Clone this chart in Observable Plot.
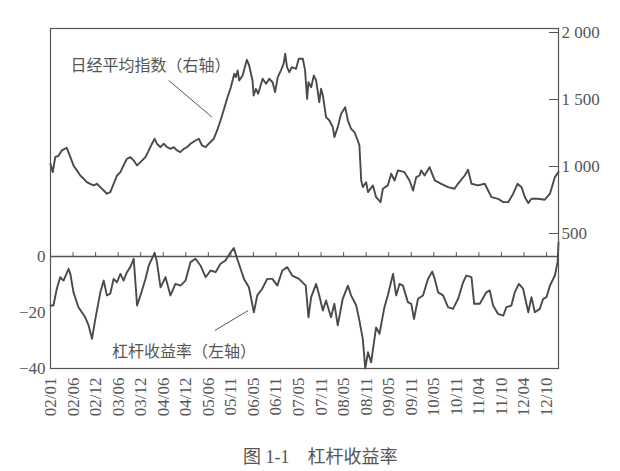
<!DOCTYPE html>
<html><head><meta charset="utf-8">
<script src="https://cdn.jsdelivr.net/npm/d3@7"></script>
<script src="https://cdn.jsdelivr.net/npm/@observablehq/plot@0.6"></script>
<style>
body{margin:0;background:#fff;}
#wrap{position:relative;width:620px;height:471px;overflow:hidden;}
#cap{position:absolute;left:243px;top:446px;font-size:18px;font-family:"Liberation Serif","Noto Sans CJK SC",serif;color:#555;white-space:pre;line-height:22px;}
</style></head><body>
<div id="wrap"><div id="chart"></div><div id="cap">图 1-1　杠杆收益率</div></div>
<script>
// x-axis tick labels (evenly spaced, index positions 0..22)
const xTickLabels = ["02/01","02/06","02/12","03/06","03/12","04/06","04/12","05/06","05/11","06/05","06/11","07/05","07/11","08/05","08/11","09/05","09/11","10/05","10/11","11/04","11/10","12/04","12/10"];

// Nikkei average index (right axis)
const nikkeiIdx = [0,0.1,0.21,0.36,0.50,0.72,0.88,1.02,1.17,1.32,1.47,1.61,1.76,1.91,2.06,2.21,2.36,2.50,2.65,2.80,2.95,3.10,3.24,3.39,3.54,3.69,3.84,3.99,4.21,4.36,4.50,4.62,4.72,4.88,5.02,5.17,5.32,5.47,5.61,5.76,5.91,6.06,6.21,6.43,6.58,6.72,6.88,7.02,7.24,7.39,7.54,7.70,7.85,8.00,8.15,8.22,8.30,8.37,8.52,8.71,8.81,8.96,9.01,9.11,9.21,9.41,9.56,9.70,9.85,9.96,10.08,10.22,10.34,10.41,10.49,10.59,10.70,10.89,11.01,11.19,11.29,11.38,11.44,11.56,11.68,11.78,11.92,12.0,12.08,12.22,12.37,12.52,12.59,12.74,12.89,13.07,13.19,13.33,13.48,13.63,13.70,13.78,13.85,14.0,14.08,14.30,14.44,14.64,14.74,14.96,15.11,15.26,15.41,15.70,15.92,16.08,16.22,16.37,16.44,16.59,16.81,17.04,17.33,17.63,17.92,18.07,18.37,18.52,18.67,18.96,19.26,19.41,19.56,19.85,20.08,20.30,20.52,20.71,20.89,21.04,21.19,21.33,21.63,21.92,22.15,22.37,22.53];
const nikkeiVal = [1021,958,1070,1082,1120,1140,1070,1008,971,933,909,883,871,859,871,846,821,797,809,871,933,958,1008,1058,1070,1045,1008,1033,1070,1120,1170,1207,1170,1144,1170,1144,1132,1144,1120,1107,1132,1144,1170,1194,1207,1157,1144,1170,1207,1269,1343,1431,1517,1592,1692,1667,1717,1642,1679,1796,1754,1642,1530,1580,1543,1655,1617,1655,1629,1555,1667,1717,1767,1841,1741,1704,1741,1729,1804,1804,1717,1505,1629,1592,1679,1642,1480,1580,1530,1368,1343,1294,1219,1294,1393,1443,1343,1282,1256,1194,1157,896,846,883,809,859,771,734,834,859,946,896,971,958,896,821,921,933,971,933,995,896,871,846,834,871,933,976,871,859,871,821,771,759,734,734,797,871,846,771,727,759,759,752,797,921,958];

// Leverage return (left axis, %)
const levIdx = [0,0.13,0.28,0.43,0.58,0.80,0.88,1.02,1.24,1.39,1.54,1.69,1.84,1.99,2.21,2.36,2.50,2.65,2.80,2.95,3.10,3.24,3.39,3.54,3.69,3.84,3.99,4.21,4.36,4.50,4.62,4.72,4.88,5.10,5.32,5.54,5.76,5.99,6.21,6.43,6.65,6.88,7.10,7.32,7.54,7.76,7.99,8.13,8.28,8.43,8.58,8.80,9.02,9.17,9.39,9.61,9.84,10.06,10.28,10.50,10.72,11.02,11.32,11.44,11.56,11.78,11.92,12.08,12.22,12.44,12.59,12.74,12.96,13.19,13.33,13.56,13.70,13.85,13.96,14.08,14.22,14.44,14.59,14.81,14.96,15.19,15.33,15.48,15.63,15.85,16.00,16.12,16.30,16.52,16.74,16.93,17.04,17.19,17.41,17.63,17.85,18.08,18.30,18.44,18.67,18.79,19.04,19.33,19.48,19.63,19.85,20.08,20.22,20.44,20.59,20.77,20.96,21.19,21.33,21.48,21.70,21.85,22.00,22.15,22.37,22.49,22.53];
const levVal = [-17.5,-17.5,-11.5,-7.4,-8.6,-4.4,-6.2,-12.8,-18.1,-19.9,-21.7,-24.6,-29.4,-22.3,-12.8,-8.6,-13.9,-13.3,-8.0,-9.2,-6.2,-8.6,-5.6,-3.8,-0.8,-17.5,-13.9,-8.0,-3.2,-0.8,1.3,-2.0,-11.0,-7.4,-13.9,-9.8,-10.4,-8.6,-2.0,-0.8,-3.2,-7.4,-5.0,-5.6,-2.6,-1.4,1.5,3.0,-0.8,-4.4,-8.0,-11.0,-19.9,-13.9,-11.5,-8.0,-8.0,-10.4,-5.0,-3.8,-6.8,-8.0,-10.4,-21.7,-14.5,-9.8,-13.9,-19.3,-15.7,-21.7,-16.9,-24.6,-15.1,-10.4,-13.9,-17.5,-22.9,-29.4,-40.0,-34.2,-37.8,-25.3,-27.6,-18.1,-13.9,-6.2,-13.9,-9.8,-10.4,-16.3,-16.9,-22.3,-15.1,-13.9,-8.0,-5.4,-8.0,-12.8,-13.9,-18.1,-18.7,-15.1,-9.2,-6.8,-7.4,-16.9,-16.9,-12.8,-12.1,-17.5,-20.5,-21.1,-18.1,-17.5,-12.8,-9.8,-11.5,-19.9,-14.5,-19.9,-18.7,-15.1,-14.5,-10.4,-6.8,-2.0,5.0];

// Axes
const leftTicks = [0, -20, -40];
const leftDomain = [-40, 81.43];
const rightTicks = [500, 1000, 1500, 2000];
const rightTickLabels = ["500", "1 000", "1 500", "2 000"];
// right axis value 2000 sits at left-axis 80; 500 index points = 23.93 left units
const rightRef = [2000, 80, 500 / 23.93];

// Annotations
const annoText = ["日经平均指数（右轴）", "杠杆收益率（左轴）"];
const annoX = [0.89, 2.73];
const annoY = [68.0, -33.9];
const leaderX1 = [5.24, 7.29];
const leaderY1 = [62.9, -26.4];
const leaderX2 = [7.16, 8.77];
const leaderY2 = [49.8, -19.3];

const nk = v => rightRef[1] - (rightRef[0] - v) / rightRef[2];
const topData = nikkeiIdx.map((x, i) => ({x, y: nk(nikkeiVal[i])}));
const botData = levIdx.map((x, i) => ({x, y: levVal[i]}));
const xDomain = d3.extent([...nikkeiIdx, ...levIdx]);
const xTickIdx = xTickLabels.map((_, i) => i);
const rightPos = rightTicks.map(nk);
const rightLabel = new Map(rightPos.map((p, i) => [p, rightTickLabels[i]]));
const anno = annoText.map((t, i) => ({t, x: annoX[i], y: annoY[i]}));
const leaders = leaderX1.map((_, i) => ({x1: leaderX1[i], y1: leaderY1[i], x2: leaderX2[i], y2: leaderY2[i]}));
const upTick = {draw(ctx, l) { ctx.moveTo(0, 0); ctx.lineTo(0, -l); }};

const ink = "#555";
const lineInk = "#4a4a4a";

const chart = Plot.plot({
  width: 620, height: 440,
  marginLeft: 50, marginRight: 62, marginTop: 28, marginBottom: 72,
  style: {fontFamily: '"Liberation Serif","Noto Sans CJK SC",serif', fontSize: "17px", color: ink, background: "#fff"},
  x: {domain: xDomain},
  y: {domain: leftDomain},
  marks: [
    Plot.ruleY([0], {stroke: ink, strokeWidth: 1.3}),
    Plot.vector(xTickIdx, {x: d => d, y: 0, length: 4, anchor: "start", shape: upTick, stroke: ink, strokeWidth: 1}),
    Plot.line(topData, {x: "x", y: "y", stroke: lineInk, strokeWidth: 1.9, strokeLinejoin: "round"}),
    Plot.line(botData, {x: "x", y: "y", stroke: lineInk, strokeWidth: 1.9, strokeLinejoin: "round"}),
    Plot.axisY(leftTicks, {anchor: "left", tickSize: 0, tickPadding: 5, fill: ink}),
    Plot.axisY(rightPos, {anchor: "right", tickSize: 10, insetRight: 10, tickPadding: 3, stroke: ink, fill: ink, tickFormat: d => rightLabel.get(d)}),
    Plot.axisX(xTickIdx, {anchor: "bottom", tickSize: 0, tickPadding: 9, tickRotate: -90, fill: ink, tickFormat: i => xTickLabels[i]}),
    Plot.link(leaders, {x1: "x1", y1: "y1", x2: "x2", y2: "y2", stroke: ink, strokeWidth: 1}),
    Plot.text(anno, {x: "x", y: "y", text: "t", textAnchor: "start", fontSize: 16, fill: ink, fontFamily: '"Noto Sans CJK SC",sans-serif'}),
    Plot.frame({stroke: ink, strokeWidth: 1.2})
  ]
});
document.getElementById("chart").appendChild(chart);
</script>
</body></html>
